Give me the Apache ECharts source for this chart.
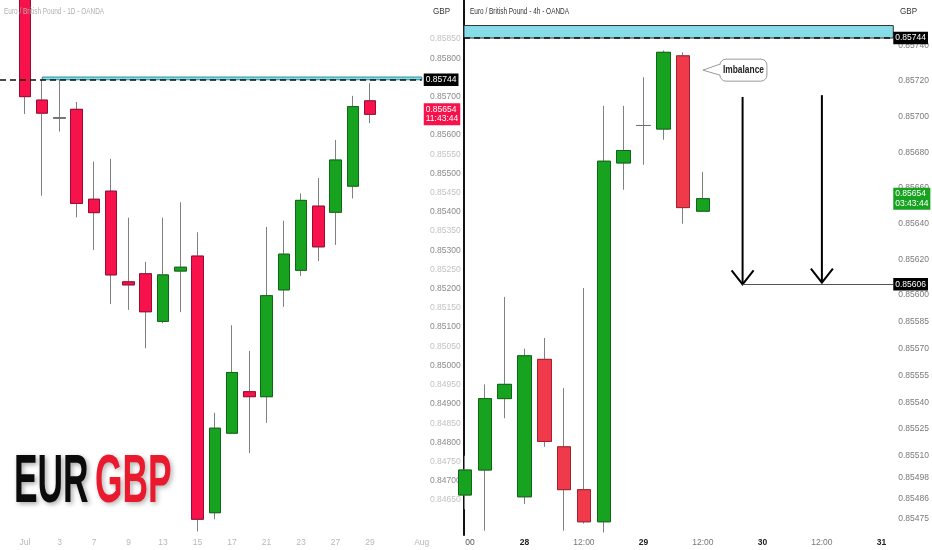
<!DOCTYPE html>
<html><head><meta charset="utf-8">
<script src="https://cdn.jsdelivr.net/npm/echarts@6/dist/echarts.min.js"></script>
<style>html,body{margin:0;padding:0;background:#fff}#c{width:932px;height:550px}</style>
</head><body><div id="c"></div>
<script>
// ---------- Daily panel (left) ----------
const dailyOpen  = [0.85990,0.85691,0.85645,0.85667,0.85433,0.85454,0.85218,0.85239,0.85115,0.85246,0.85285,0.84617,0.84824,0.84932,0.84919,0.85197,0.85248,0.85415,0.85399,0.85467,0.85689];
const dailyHigh  = [0.86020,0.85744,0.85744,0.85686,0.85531,0.85538,0.85385,0.85270,0.85385,0.85425,0.85347,0.84877,0.85105,0.85038,0.85361,0.85377,0.85448,0.85488,0.85587,0.85702,0.85735];
const dailyLow   = [0.85655,0.85442,0.85609,0.85386,0.85301,0.85160,0.85145,0.85045,0.85110,0.85139,0.84568,0.84600,0.84822,0.84772,0.84851,0.85153,0.85233,0.85272,0.85314,0.85435,0.85631];
const dailyClose = [0.85700,0.85657,0.85644,0.85422,0.85398,0.85236,0.85210,0.85140,0.85236,0.85256,0.84600,0.84837,0.84982,0.84919,0.85182,0.85290,0.85430,0.85309,0.85535,0.85674,0.85654];
const dailyTickLabels = ['Jul','','3','','7','','9','','13','','15','','17','','21','','23','','27','','29','','','Aug'];
const dailyPriceTicks = [0.84650,0.84700,0.84750,0.84800,0.84850,0.84900,0.84950,0.85000,0.85050,0.85100,0.85150,0.85200,0.85250,0.85300,0.85350,0.85400,0.85450,0.85500,0.85550,0.85600,0.85700,0.85800,0.85850];

// ---------- 4h panel (right) ----------
const h4Open  = [0.85488,0.85502,0.85542,0.85487,0.85564,0.85515,0.85491,0.85473,0.85674,0.85695,0.85693,0.85734,0.85647];
const h4High  = [0.85510,0.85550,0.85599,0.85570,0.85576,0.85548,0.85604,0.85706,0.85706,0.85722,0.85737,0.85736,0.85669];
const h4Low   = [0.85480,0.85468,0.85531,0.85483,0.85515,0.85468,0.85472,0.85467,0.85659,0.85673,0.85687,0.85640,0.85647];
const h4Close = [0.85502,0.85542,0.85550,0.85566,0.85518,0.85491,0.85473,0.85675,0.85681,0.85695,0.85736,0.85649,0.85654];
const h4TickLabels = ['00','','','28','','','12:00','','','29','','','12:00','','','30','','','12:00','','','31'];
const h4PriceTicks = [0.85475,0.85486,0.85498,0.85510,0.85525,0.85540,0.85555,0.85570,0.85585,0.85600,0.85620,0.85640,0.85660,0.85680,0.85700,0.85720,0.85740];

// ---------- annotations ----------
const resistance = 0.85744;
const zoneTop = 0.85751;
const lastPrice = 0.85654;
const dailyTimer = '11:43:44';
const h4Timer = '03:43:44';
const targetPrice = 0.85606;
const arrowBars = [14, 18];
const arrowFrom = [0.85711, 0.85712];
const arrowTo = [0.85606, 0.85607];
const calloutBar = 12;
const calloutPrice = 0.85726;
const calloutText = 'Imbalance';
const zoneStartDaily = 1;
const headerDaily = 'Euro / British Pound - 1D - OANDA';
const header4h = 'Euro / British Pound - 4h - OANDA';
const currency = 'GBP';

// ---------- view ranges ----------
const LX_MIN = -1.449, LX_MAX = 23.188, LY_MIN = 0.845590, LY_MAX = 0.859515;
const RX_MIN = -0.05, RX_MAX = 21.6, RY_MIN = 0.854656, RY_MAX = 0.857653;

const FONT = '"Liberation Sans", Arial, sans-serif';
const FS = 8.5;
const RED_D = '#f7124b', RED_4 = '#f0394a', GREEN = '#17a21f';
const DOJI = 0.00002;

function wickData(o, h, l, c) { return o.map((v, i) => [i, v, c[i], l[i], h[i]]); }
function bodyData(o, c) {
  return o.map((v, i) => {
    const item = {value: [i, v, c[i], Math.min(v, c[i]), Math.max(v, c[i])]};
    if (Math.abs(v - c[i]) < DOJI) item.itemStyle = {borderColor: '#707070', borderColor0: '#707070'};
    return item;
  });
}
function idxOf(labels) { const r = []; labels.forEach((s, i) => { if (s) r.push(i); }); return r; }

const priceBox = (bg) => ({show: true, position: 'end', distance: 2, color: '#fff', backgroundColor: bg,
  padding: [2, 2, 1, 2], fontSize: FS, fontFamily: FONT, lineHeight: 9.5});
const hidden = {color: 'rgba(0,0,0,0)', width: 0, type: 'solid'};

function smallText(text, x, y, color, sx) {
  return {type: 'text', x: x, y: y, scaleX: sx, z: 10, silent: true,
    style: {text: text, fill: color, font: '9.5px ' + FONT, align: 'left', verticalAlign: 'middle'}};
}

const chart = echarts.init(document.getElementById('c'), null, {renderer: 'canvas'});
chart.setOption({
  animation: false,
  backgroundColor: '#fff',
  grid: [
    {left: 0, top: 0, width: 425, height: 535},
    {left: 464, top: 0, width: 431, height: 535}
  ],
  xAxis: [
    {type: 'value', gridIndex: 0, min: LX_MIN, max: LX_MAX, axisLine: {show: false}, axisTick: {show: false}, splitLine: {show: false},
     axisLabel: {customValues: idxOf(dailyTickLabels), formatter: v => dailyTickLabels[Math.round(v)], color: '#b8b8b8', fontSize: FS, fontFamily: FONT, margin: 3}},
    {type: 'value', gridIndex: 1, min: RX_MIN, max: RX_MAX, axisLine: {show: false}, axisTick: {show: false}, splitLine: {show: false},
     axisLabel: {customValues: idxOf(h4TickLabels), margin: 3, fontFamily: FONT, fontSize: FS,
       formatter: v => { const s = h4TickLabels[Math.round(v)]; if (Math.round(v) === 0) return '{f|' + s + '}'; return s.indexOf(':') >= 0 ? '{n|' + s + '}' : '{b|' + s + '}'; },
       rich: {n: {color: '#777', fontSize: FS, fontFamily: FONT}, b: {color: '#222', fontWeight: 'bold', fontSize: FS, fontFamily: FONT}, f: {color: '#555', fontSize: FS, fontFamily: FONT, padding: [0, 0, 0, 10]}}}}
  ],
  yAxis: [
    {type: 'value', gridIndex: 0, position: 'right', min: LY_MIN, max: LY_MAX, axisLine: {show: false}, axisTick: {show: false}, splitLine: {show: false},
     axisLabel: {customValues: dailyPriceTicks, margin: 5, fontFamily: FONT, fontSize: FS,
       formatter: v => (Math.round(v * 1e5) % 100 === 0 ? '{d|' : '{l|') + v.toFixed(5) + '}',
       rich: {d: {color: '#8a8a8a', fontSize: FS, fontFamily: FONT}, l: {color: '#c2c2c2', fontSize: FS, fontFamily: FONT}}}},
    {type: 'value', gridIndex: 1, position: 'right', min: RY_MIN, max: RY_MAX, axisLine: {show: false}, axisTick: {show: false}, splitLine: {show: false},
     axisLabel: {customValues: h4PriceTicks, margin: 5, color: '#7a7a7a', fontSize: FS, fontFamily: FONT, formatter: v => v.toFixed(5)}},
    {type: 'value', gridIndex: 1, position: 'left', min: 0, max: 1, axisLine: {show: true, lineStyle: {color: '#111', width: 2}}, axisTick: {show: false}, axisLabel: {show: false}, splitLine: {show: false}}
  ],
  series: [
    // daily wicks
    {type: 'candlestick', xAxisIndex: 0, yAxisIndex: 0, barWidth: 12, encode: {x: 0, y: [1, 2, 3, 4]},
     data: wickData(dailyOpen, dailyHigh, dailyLow, dailyClose),
     itemStyle: {color: '#777', color0: '#777', borderColor: '#808080', borderColor0: '#808080', borderWidth: 1},
     markArea: {silent: true, data: [[{coord: [zoneStartDaily, zoneTop]}, {coord: [dailyTickLabels.length - 1, resistance]}]],
       itemStyle: {color: '#86dde8', borderColor: '#2a8d99', borderWidth: 1}},
     markLine: {silent: true, symbol: 'none', data: [
       [{coord: [LX_MIN, resistance], lineStyle: {type: [6, 4], color: '#111', width: 1.5}, label: Object.assign(priceBox('#000'), {formatter: resistance.toFixed(5)})},
        {coord: [dailyTickLabels.length - 1, resistance]}],
       [{coord: [LX_MIN, lastPrice], lineStyle: hidden, label: Object.assign(priceBox(RED_D), {formatter: lastPrice.toFixed(5) + '\n' + dailyTimer})},
        {coord: [dailyTickLabels.length - 1, lastPrice]}]
     ]}},
    // daily bodies
    {type: 'candlestick', xAxisIndex: 0, yAxisIndex: 0, barWidth: 12, encode: {x: 0, y: [1, 2, 3, 4]},
     data: bodyData(dailyOpen, dailyClose),
     itemStyle: {color: GREEN, color0: RED_D, borderColor: '#0d6a14', borderColor0: '#9a0c33', borderWidth: 1}},
    // 4h wicks
    {type: 'candlestick', xAxisIndex: 1, yAxisIndex: 1, barWidth: 14, encode: {x: 0, y: [1, 2, 3, 4]},
     data: wickData(h4Open, h4High, h4Low, h4Close),
     itemStyle: {color: '#777', color0: '#777', borderColor: '#808080', borderColor0: '#808080', borderWidth: 1},
     markArea: {silent: true, data: [[{coord: [RX_MIN, zoneTop]}, {coord: [RX_MAX, resistance]}]],
       itemStyle: {color: '#86dde8', borderColor: '#333', borderWidth: 1}},
     markLine: {silent: true, symbol: 'none', data: [
       [{coord: [RX_MIN, resistance], lineStyle: {type: [6, 4], color: '#111', width: 1.5}, label: Object.assign(priceBox('#000'), {formatter: resistance.toFixed(5), distance: 0})},
        {coord: [RX_MAX, resistance]}],
       [{coord: [arrowBars[0], targetPrice], lineStyle: {type: 'solid', color: '#555', width: 1}, label: Object.assign(priceBox('#000'), {formatter: targetPrice.toFixed(5), distance: 0})},
        {coord: [RX_MAX, targetPrice]}],
       [{coord: [RX_MIN, lastPrice], lineStyle: hidden, label: Object.assign(priceBox(GREEN), {formatter: lastPrice.toFixed(5) + '\n' + h4Timer, distance: 0})},
        {coord: [RX_MAX, lastPrice]}]
     ]}},
    // 4h bodies
    {type: 'candlestick', xAxisIndex: 1, yAxisIndex: 1, barWidth: 14, encode: {x: 0, y: [1, 2, 3, 4]},
     data: bodyData(h4Open, h4Close),
     itemStyle: {color: GREEN, color0: RED_4, borderColor: '#0d6a14', borderColor0: '#a3222f', borderWidth: 1}},
    // arrows
    {type: 'custom', xAxisIndex: 1, yAxisIndex: 1, silent: true, dimensions: ['bar', 'from', 'to'], encode: {x: 0, y: [1, 2]},
     data: arrowBars.map((b, i) => [b, arrowFrom[i], arrowTo[i]]),
     renderItem: (params, api) => {
       const a = api.coord([api.value(0), api.value(1)]);
       const b = api.coord([api.value(0), api.value(2)]);
       return {type: 'group', children: [
         {type: 'line', shape: {x1: a[0], y1: a[1], x2: b[0], y2: b[1]}, style: {stroke: '#000', lineWidth: 2}},
         {type: 'polyline', shape: {points: [[b[0] - 11, b[1] - 14], [b[0], b[1]], [b[0] + 11, b[1] - 14]]}, style: {stroke: '#000', lineWidth: 2, fill: null}}
       ]};
     }},
    // callout
    {type: 'custom', xAxisIndex: 1, yAxisIndex: 1, silent: true, dimensions: ['bar', 'price'], encode: {x: 0, y: 1},
     data: [[calloutBar, calloutPrice]],
     renderItem: (params, api) => {
       const t = api.coord([api.value(0), api.value(1)]);
       const bx = t[0] + 17, w = 47, h = 22, by = t[1] - 11;
       return {type: 'group', children: [
         {type: 'rect', shape: {x: bx, y: by, width: w, height: h, r: 6}, style: {fill: '#fff', stroke: '#9a9a9a', lineWidth: 1}},
         {type: 'polygon', shape: {points: [[t[0], t[1]], [bx + 2, t[1] - 6], [bx + 2, t[1] + 5]]}, style: {fill: '#fff'}},
         {type: 'polyline', shape: {points: [[bx, t[1] - 6], [t[0], t[1]], [bx, t[1] + 5]]}, style: {stroke: '#9a9a9a', lineWidth: 1, fill: null}},
         {type: 'text', x: bx + w / 2, y: t[1], scaleX: 0.8, style: {text: calloutText, align: 'center', verticalAlign: 'middle', fill: '#222', font: 'bold 10.5px ' + FONT}}
       ]};
     }}
  ],
  graphic: [
    smallText(headerDaily, 4, 11, '#b0b0b0', 0.68),
    smallText(currency, 433, 11, '#333', 0.85),
    smallText(header4h, 470, 11, '#333', 0.68),
    smallText(currency, 900, 11, '#333', 0.85),
    {type: 'text', x: 14, y: 483, scaleX: 0.52, z: 10, silent: true,
     style: {text: 'EUR', fill: '#0b0b0b', font: 'bold 68px "Liberation Sans", sans-serif', align: 'left', verticalAlign: 'middle',
       textShadowColor: 'rgba(0,0,0,0.35)', textShadowBlur: 5, textShadowOffsetX: 2, textShadowOffsetY: 2}},
    {type: 'text', x: 95, y: 483, scaleX: 0.52, z: 10, silent: true,
     style: {text: 'GBP', fill: '#ea1a2e', font: 'bold 68px "Liberation Sans", sans-serif', align: 'left', verticalAlign: 'middle',
       textShadowColor: 'rgba(0,0,0,0.3)', textShadowBlur: 5, textShadowOffsetX: 2, textShadowOffsetY: 2}}
  ]
});
</script></body></html>
